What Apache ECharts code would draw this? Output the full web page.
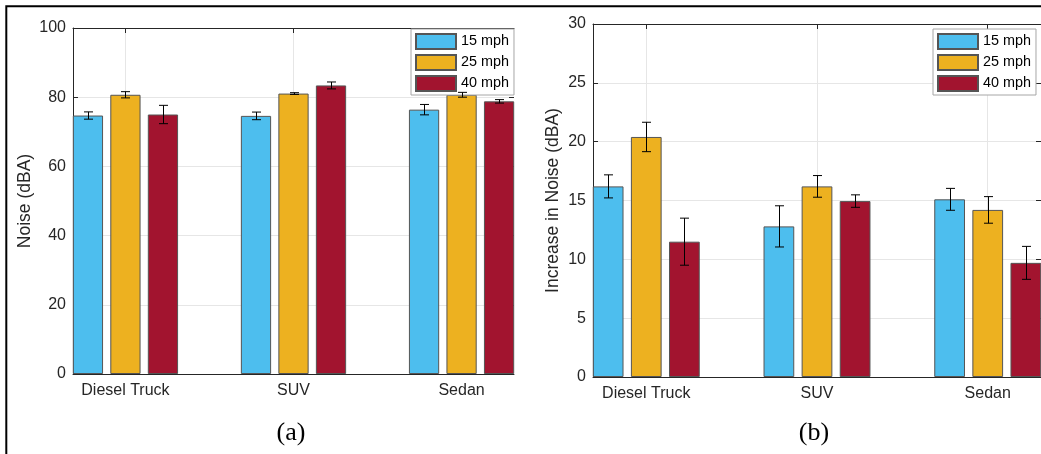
<!DOCTYPE html>
<html><head><meta charset="utf-8">
<script src="https://cdn.jsdelivr.net/npm/echarts@6/dist/echarts.min.js"></script>
<style>html,body{margin:0;padding:0;background:#fff}#c{width:1041px;height:454px}</style>
</head><body><div id="c"></div>
<script>
// ---------- data ----------
const categories = ['Diesel Truck', 'SUV', 'Sedan'];
const speeds = ['15 mph', '25 mph', '40 mph'];
// panel (a): Noise (dBA)
const noise15 = [74.7, 74.6, 76.4];
const noise25 = [80.7, 81.05, 80.7];
const noise40 = [75.0, 83.4, 78.8];
const noiseErr15 = [1.05, 1.1, 1.5];
const noiseErr25 = [0.9, 0.25, 0.7];
const noiseErr40 = [2.65, 1.0, 0.5];
// panel (b): Increase in Noise (dBA)
const inc15 = [16.2, 12.8, 15.1];
const inc25 = [20.4, 16.2, 14.2];
const inc40 = [11.5, 14.95, 9.7];
const incErr15 = [0.98, 1.75, 0.93];
const incErr25 = [1.25, 0.92, 1.13];
const incErr40 = [2.0, 0.53, 1.4];
const noiseAxis = {min: 0, max: 100, interval: 20};
const incAxis = {min: 0, max: 30, interval: 5};
const panelLabels = ['(a)', '(b)'];
const yNames = ['Noise (dBA)', 'Increase in Noise (dBA)'];

// ---------- style ----------
const FONT = '"Liberation Sans", Arial, Helvetica, sans-serif';
const colors = ['#4DBEEE', '#EDB120', '#A2142F'];
const AX = '#262626';
const BAR_W = 0.18, BAR_GAP = 0.24;
const catPos = categories.map((c, i) => i + 1);
const X_MIN = 0.688, X_MAX = 3.312;

const chart = echarts.init(document.getElementById('c'), null, {renderer: 'canvas'});

const grids = [
  {left: 73, top: 28, width: 441, height: 346, show: false},
  {left: 593, top: 24, width: 449, height: 353, show: false}
];

function xAxesFor(g) {
  const base = {type: 'value', gridIndex: g, min: X_MIN, max: X_MAX};
  return [
    Object.assign({}, base, {
      position: 'bottom',
      axisLine: {show: true, onZero: false, lineStyle: {color: AX, width: 1}},
      axisTick: {show: true, inside: true, length: 5, customValues: catPos, lineStyle: {color: AX}},
      axisLabel: {show: true, customValues: catPos, margin: 9, fontSize: 16, color: AX, fontFamily: FONT,
        formatter: v => categories[Math.round(v) - 1] || ''},
      splitLine: {show: true, lineStyle: {color: '#e6e6e6', width: 1}}
    }),
    Object.assign({}, base, {
      position: 'top',
      axisLine: {show: true, onZero: false, lineStyle: {color: AX, width: 1}},
      axisTick: {show: true, inside: true, length: 5, customValues: catPos, lineStyle: {color: AX}},
      axisLabel: {show: false},
      splitLine: {show: false}
    })
  ];
}

function yAxesFor(g, rng, name, nameGap) {
  return [
    {type: 'value', gridIndex: g, position: 'left', min: rng.min, max: rng.max, interval: rng.interval,
      name: name, nameLocation: 'middle', nameGap: nameGap,
      nameTextStyle: {fontSize: 17.5, color: AX, fontFamily: FONT},
      axisLine: {show: true, onZero: false, lineStyle: {color: AX, width: 1}},
      axisTick: {show: true, inside: true, length: 5, lineStyle: {color: AX}},
      axisLabel: {margin: 7, fontSize: 16, color: AX, fontFamily: FONT},
      splitLine: {show: true, lineStyle: {color: '#e6e6e6', width: 1}}},
    {type: 'value', gridIndex: g, position: 'right', min: rng.min, max: rng.max, interval: rng.interval,
      axisLine: {show: false},
      axisTick: {show: true, inside: true, length: 5, lineStyle: {color: AX}},
      axisLabel: {show: false},
      splitLine: {show: false}}
  ];
}

function barSeries(vals, k, g) {
  return {
    type: 'bar', name: speeds[k], xAxisIndex: g * 2, yAxisIndex: g * 2,
    data: vals.map((v, i) => [catPos[i], v]),
    barWidth: (BAR_W * 100) + '%', barGap: (BAR_GAP * 100) + '%',
    itemStyle: {color: colors[k], borderColor: '#555555', borderWidth: 1},
    emphasis: {disabled: true}, z: 2
  };
}

function errSeries(vals, errs, k, g) {
  return {
    type: 'custom', xAxisIndex: g * 2, yAxisIndex: g * 2, z: 5, silent: true,
    data: vals.map((v, i) => [catPos[i], v - errs[i], v + errs[i]]),
    encode: {x: 0, y: [1, 2]},
    renderItem: function (params, api) {
      const band = api.size([1, 0])[0];
      const w = band * BAR_W;
      const off = (k - 1) * w * (1 + BAR_GAP);
      const lo = api.coord([api.value(0), api.value(1)]);
      const hi = api.coord([api.value(0), api.value(2)]);
      const x = Math.round(lo[0] + off) + 0.5;
      const c = 4.5;
      const st = {stroke: '#000', lineWidth: 1};
      return {type: 'group', children: [
        {type: 'line', shape: {x1: x, y1: hi[1], x2: x, y2: lo[1]}, style: st},
        {type: 'line', shape: {x1: x - c, y1: hi[1], x2: x + c, y2: hi[1]}, style: st},
        {type: 'line', shape: {x1: x - c, y1: lo[1], x2: x + c, y2: lo[1]}, style: st}
      ]};
    }
  };
}

function legendFor(left) {
  return {
    data: speeds, orient: 'vertical', left: left, top: 29,
    itemWidth: 40, itemHeight: 15, itemGap: 4, icon: 'rect',
    padding: [4, 5, 3, 4], borderColor: '#a6a6a6', borderWidth: 1, backgroundColor: '#ffffff',
    textStyle: {fontSize: 14.4, color: '#000', lineHeight: 15, fontFamily: FONT},
    selectedMode: false
  };
}

const option = {
  backgroundColor: '#ffffff',
  animation: false,
  grid: grids,
  xAxis: [].concat(xAxesFor(0), xAxesFor(1)),
  yAxis: [].concat(yAxesFor(0, noiseAxis, yNames[0], 39), yAxesFor(1, incAxis, yNames[1], 31)),
  legend: [legendFor(411), legendFor(933)],
  series: [
    barSeries(noise15, 0, 0), barSeries(noise25, 1, 0), barSeries(noise40, 2, 0),
    barSeries(inc15, 0, 1), barSeries(inc25, 1, 1), barSeries(inc40, 2, 1),
    errSeries(noise15, noiseErr15, 0, 0), errSeries(noise25, noiseErr25, 1, 0), errSeries(noise40, noiseErr40, 2, 0),
    errSeries(inc15, incErr15, 0, 1), errSeries(inc25, incErr25, 1, 1), errSeries(inc40, incErr40, 2, 1)
  ],
  graphic: [
    {type: 'polyline', silent: true, shape: {points: [[6.3, 454], [6.3, 6.3], [1041, 6.3]]},
      style: {stroke: '#000', lineWidth: 2, fill: null}},
    {type: 'text', x: 291, y: 433, silent: true,
      style: {text: panelLabels[0], font: '26px "Liberation Serif", "Times New Roman", serif', fill: '#000', align: 'center', verticalAlign: 'middle'}},
    {type: 'text', x: 814, y: 433, silent: true,
      style: {text: panelLabels[1], font: '26px "Liberation Serif", "Times New Roman", serif', fill: '#000', align: 'center', verticalAlign: 'middle'}}
  ]
};
chart.setOption(option);
</script>
</body></html>
